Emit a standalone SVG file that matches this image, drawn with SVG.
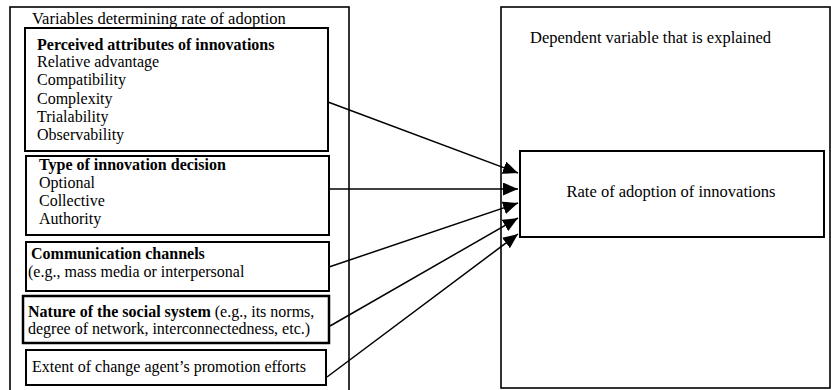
<svg xmlns="http://www.w3.org/2000/svg" width="831" height="390" viewBox="0 0 831 390">
<style>
text{font-family:"Liberation Serif","Times New Roman",serif;font-size:16px;fill:#000}
.t{font-size:16.5px}
.b{font-weight:bold}
.box{fill:none;stroke:#000;stroke-width:2}
.outer{fill:none;stroke:#000;stroke-width:1.6}
.con{stroke:#000;stroke-width:1.5;fill:none;marker-end:url(#ah)}
</style>
<defs>
<marker id="ah" markerUnits="userSpaceOnUse" markerWidth="16" markerHeight="14" refX="15" refY="6.5" orient="auto">
<path d="M0,0 L15,6.5 L0,13 Z" fill="#000"/>
</marker>
</defs>
<rect width="831" height="390" fill="#fff"/>
<g id="left-panel">
<rect class="outer" x="10" y="7" width="339" height="390"/>
<text class="t" x="32" y="24">Variables determining rate of adoption</text>
</g>
<g id="right-panel">
<rect class="outer" x="501" y="7" width="329" height="381"/>
<text class="t" x="530" y="43">Dependent variable that is explained</text>
</g>
<g id="perceived">
<rect class="box" x="25" y="28" width="303" height="123"/>
<text x="37" y="50" class="b">Perceived attributes of innovations</text>
<text x="37" y="67">Relative advantage</text>
<text x="37" y="85">Compatibility</text>
<text x="37" y="104">Complexity</text>
<text x="37" y="122">Trialability</text>
<text x="37" y="140">Observability</text>
</g>
<g id="decision">
<rect class="box" x="26" y="156" width="303" height="79"/>
<text x="39" y="170" class="b">Type of innovation decision</text>
<text x="39" y="188">Optional</text>
<text x="39" y="206">Collective</text>
<text x="39" y="224">Authority</text>
</g>
<g id="communication">
<rect class="box" x="26" y="242" width="303" height="49"/>
<text x="31" y="259" class="b">Communication channels</text>
<text x="28" y="277">(e.g., mass media or interpersonal</text>
</g>
<g id="social">
<rect class="box" x="23" y="296" width="306" height="47" style="stroke-width:2.5"/>
<text x="28" y="317"><tspan class="b">Nature of the social system</tspan> (e.g., its norms,</text>
<text x="28" y="334">degree of network, interconnectedness, etc.)</text>
</g>
<g id="promotion">
<rect class="box" x="26" y="350" width="300" height="35"/>
<text x="32" y="372">Extent of change agent’s promotion efforts</text>
</g>
<g id="rate">
<rect class="box" x="520" y="151" width="304" height="86"/>
<text class="t" x="671" y="197" text-anchor="middle">Rate of adoption of innovations</text>
</g>
<g id="connectors">
<line class="con" x1="328" y1="102" x2="518" y2="173"/>
<line class="con" x1="329" y1="189" x2="518" y2="189"/>
<line class="con" x1="329" y1="267" x2="518" y2="203"/>
<line class="con" x1="330" y1="326" x2="518" y2="218"/>
<line class="con" x1="327" y1="377" x2="518" y2="234"/>
</g>
</svg>
